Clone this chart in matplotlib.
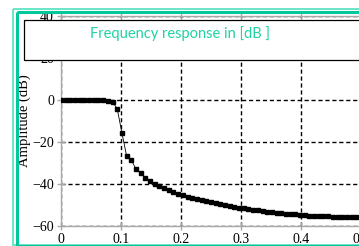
import matplotlib.pyplot as plt
import matplotlib.patches as patches
import numpy as np

# frequency samples k/128, k = 0..64
k = np.arange(65)
freq = k / 128.0
amp_db = [0.0, 0.0, 0.0, 0.0, 0.0, 0.0, 0.0, -0.1, -0.1, -0.2,
          -0.3, -0.8, -4.3, -15.7, -26.7, -28.6, -32.9, -34.8, -37.0, -38.6,
          -39.8, -41.0, -42.0, -43.0, -43.9, -44.7, -45.4, -46.0, -46.6, -47.2,
          -47.7, -48.2, -48.7, -49.1, -49.6, -50.0, -50.4, -50.8, -51.2, -51.5,
          -51.9, -52.2, -52.5, -52.8, -53.1, -53.4, -53.6, -53.8, -54.1, -54.3,
          -54.5, -54.7, -54.9, -55.0, -55.1, -55.2, -55.3, -55.4, -55.5, -55.5,
          -55.6, -55.6, -55.7, -55.7, -55.8]

xticks = [0, 0.1, 0.2, 0.3, 0.4, 0.5]
xticklabels = ['0', '0.1', '0.2', '0.3', '0.4', '0.5']
yticks = [-60, -40, -20, 0, 20, 40]
title = 'Frequency response in [dB ]'
ylabel = 'Amplitude (dB)'

plt.rcParams['font.family'] = ['Liberation Serif', 'DejaVu Serif']

W, H = 359, 246
fig = plt.figure(figsize=(W / 100, H / 100), dpi=100)

# main plot
ax = fig.add_axes([61 / W, (H - 226) / H, 300 / W, 210 / H])
ax.plot(freq, amp_db, color='black', lw=0.6, marker='s', ms=3.3,
        mec='black', mfc='black', zorder=3)
ax.set_xlim(0, 0.5)
ax.set_ylim(-60, 40)
ax.set_xticks(xticks)
ax.set_xticklabels(xticklabels)
ax.set_yticks(yticks)
for s in ax.spines.values():
    s.set_color('#a8a8a8')
    s.set_linewidth(1.0)
ax.tick_params(direction='inout', length=6, width=1.0, color='#a8a8a8',
               labelsize=10, pad=2, top=True)
ax.grid(True, color='black', ls=(0, (3, 2)), lw=1.0)
ax.set_axisbelow(True)
ax.set_ylabel(ylabel, fontsize=10.5)
ax.yaxis.set_label_coords(-0.10, 0.5)

# overlay for frame and title box (pixel coordinates)
ov = fig.add_axes([0, 0, 1, 1], zorder=5)
ov.set_xlim(0, W)
ov.set_ylim(H, 0)
ov.axis('off')
ov.patch.set_alpha(0)
ov.add_patch(patches.Rectangle((12.5, 8.5), 400, 236.5, fill=False,
                               ec='#5ee3c4', lw=1.3))
ov.add_patch(patches.Rectangle((16.5, 12), 400, 233.5, fill=False,
                               ec='#00c89c', lw=2.2))
ov.add_patch(patches.Rectangle((24, 20), 400, 40, fc='white',
                               ec='black', lw=0.9))
ov.text(180, 34, title, color='#1fd3a3', family='Lato', fontsize=10.5,
        ha='center', va='center')

fig.savefig('out.png', dpi=100)
